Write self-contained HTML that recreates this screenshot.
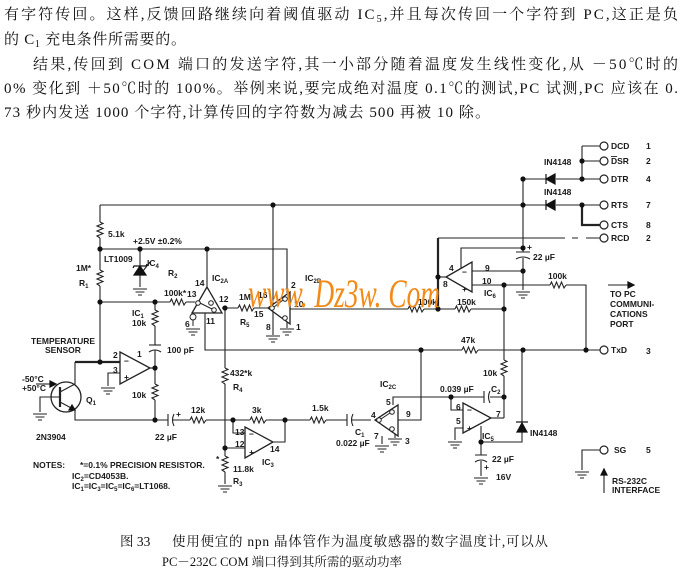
<!DOCTYPE html>
<html>
<head>
<meta charset="utf-8">
<style>
html,body{margin:0;padding:0;background:#fff;}
svg{display:block;}
.t{font-family:"Liberation Serif","Noto Serif CJK SC",serif;font-size:15px;fill:#111;}
.c{font-family:"Liberation Serif","Noto Serif CJK SC",serif;font-size:13.5px;fill:#111;}
.l{font-family:"Liberation Sans",sans-serif;font-size:8.5px;font-weight:bold;fill:#1a1a1a;}
.p{font-family:"Liberation Sans",sans-serif;font-size:8.5px;fill:#1a1a1a;}
</style>
</head>
<body>
<svg width="686" height="580" viewBox="0 0 686 580" xmlns="http://www.w3.org/2000/svg">
<defs>
  <polyline id="rh" points="0,0 1.5,-3 4,3 6.5,-3 9,3 11.5,-3 14,3 16,0"/>
  <path id="gnd" d="M-7,0H7M-4.5,3H4.5M-2,6H2"/>
</defs>

<!-- body text -->
<text class="t" x="4" y="19" textLength="674" lengthAdjust="spacing">有字符传回。这样,反馈回路继续向着阈值驱动 IC<tspan font-size="10" dy="3">5</tspan><tspan dy="-3">,并且每次传回一个字符到 PC,这正是负</tspan></text>
<text class="t" x="4" y="44" textLength="182" lengthAdjust="spacing">的 C<tspan font-size="10" dy="3">1</tspan><tspan dy="-3"> 充电条件所需要的。</tspan></text>
<text class="t" x="33" y="69" textLength="645" lengthAdjust="spacing">结果,传回到 COM 端口的发送字符,其一小部分随着温度发生线性变化,从 －50℃时的</text>
<text class="t" x="4" y="93" textLength="674" lengthAdjust="spacing">0% 变化到 ＋50℃时的 100%。举例来说,要完成绝对温度 0.1℃的测试,PC 试测,PC 应该在 0.</text>
<text class="t" x="4" y="117" textLength="486" lengthAdjust="spacing">73 秒内发送 1000 个字符,计算传回的字符数为减去 500 再被 10 除。</text>

<!-- caption -->
<text class="c" x="120" y="546">图 33</text>
<text class="c" x="172" y="546" textLength="376" lengthAdjust="spacing">使用便宜的 npn 晶体管作为温度敏感器的数字温度计,可以从</text>
<text class="c" x="162" y="566" style="font-size:12.5px" textLength="240" lengthAdjust="spacing">PC－232C COM 端口得到其所需的驱动功率</text>

<!-- wires -->
<g stroke="#222" stroke-width="1.1" fill="none">
  <path d="M100,205H546M556,205H600"/>
  <path d="M100,205V222M100,238V270M100,286V362"/>
  <path d="M100,249H287V293"/>
  <path d="M140,249V266M140,275V287"/>
  <path d="M143,271L150,262"/>
  <path d="M207,249V287"/>
  <path d="M273,205V335"/>
  <path d="M287,322V328"/>
  <path d="M100,302H170M186,302H195"/>
  <path d="M155,302V310M155,326V345M155,350V384M155,400V420"/>
  <path d="M149,345H161"/>
  <path d="M149,352Q155,348 161,352"/>
  <path d="M150,368H155"/>
  <path d="M120,373H108V386"/>
  <path d="M75,362V385"/>
  <path d="M60,392L75,384M60,402L75,410M75,410V420H168"/>
  <path d="M168,414V426M174,414Q171,420 174,426"/>
  <path d="M173,420H190M206,420H250M266,420H310M326,420H347"/>
  <path d="M347,414V426M353,414Q350,420 353,426"/>
  <path d="M352,420H371"/>
  <path d="M60,397H40V412"/>
  <path d="M36,384H52"/>
  <path d="M205,313V350H462M478,350H600"/>
  <path d="M225,308V368M225,384V456M225,472V484"/>
  <path d="M222,308H238M254,308H268"/>
  <path d="M233,420V433H245"/>
  <path d="M225,448H245"/>
  <path d="M273,442H285V420"/>
  <path d="M393,405V397H484M490,397H504"/>
  <path d="M484,391V403M490,391Q487,397 490,403"/>
  <path d="M398,420H421V350"/>
  <path d="M382,436V444M395,434V438"/>
  <path d="M451,397V410H463"/>
  <path d="M463,428H455V440"/>
  <path d="M491,418H504"/>
  <path d="M504,285V360M504,376V418"/>
  <path d="M481,426V455M481,461V476"/>
  <path d="M475,455H487M475,462Q481,458 487,462"/>
  <path d="M481,442H522V350"/>
  <path d="M438,238H565M572,238H578M586,238H600"/>
  <path d="M438,277H446"/>
  <path d="M461,268V248H523M472,271H523M472,285H550M566,285H586V350"/>
  <path d="M523,179V252M523,258V290"/>
  <path d="M516,252H530M516,259Q523,255 530,259"/>
  <path d="M290,309H408M424,309H455M471,309H504"/>
  <path d="M523,179H546M556,179H600"/>
  <path d="M582,146V179M582,146H600M582,161H600"/>
  <path d="M600,450H582V470"/>
  <path d="M604,493V472"/>
  <path d="M608,285H630"/>
</g>
<g stroke="#222" stroke-width="2.2" fill="none">
  <path d="M75,362H120"/>
  <path d="M438,238V309"/>
  <path d="M582,205V225H600"/>
  <path d="M60,387V407"/>
</g>

<!-- resistors -->
<g stroke="#222" stroke-width="1.1" fill="none">
  <use href="#rh" transform="translate(100,222) rotate(90)"/>
  <use href="#rh" transform="translate(100,270) rotate(90)"/>
  <use href="#rh" transform="translate(170,302)"/>
  <use href="#rh" transform="translate(155,310) rotate(90)"/>
  <use href="#rh" transform="translate(155,384) rotate(90)"/>
  <use href="#rh" transform="translate(190,420)"/>
  <use href="#rh" transform="translate(250,420)"/>
  <use href="#rh" transform="translate(310,420)"/>
  <use href="#rh" transform="translate(225,368) rotate(90)"/>
  <use href="#rh" transform="translate(225,456) rotate(90)"/>
  <use href="#rh" transform="translate(238,308)"/>
  <use href="#rh" transform="translate(462,350)"/>
  <use href="#rh" transform="translate(504,360) rotate(90)"/>
  <use href="#rh" transform="translate(550,285)"/>
  <use href="#rh" transform="translate(408,309)"/>
  <use href="#rh" transform="translate(455,309)"/>
</g>

<!-- grounds -->
<g stroke="#222" stroke-width="1.1" fill="none">
  <use href="#gnd" transform="translate(140,289)"/>
  <use href="#gnd" transform="translate(273,336)"/>
  <use href="#gnd" transform="translate(287,329)"/>
  <use href="#gnd" transform="translate(193,329)"/>
  <use href="#gnd" transform="translate(108,388)"/>
  <use href="#gnd" transform="translate(40,414)"/>
  <use href="#gnd" transform="translate(225,486)"/>
  <use href="#gnd" transform="translate(382,446)"/>
  <use href="#gnd" transform="translate(395,439)"/>
  <use href="#gnd" transform="translate(455,442)"/>
  <use href="#gnd" transform="translate(481,478)"/>
  <use href="#gnd" transform="translate(523,292)"/>
  <use href="#gnd" transform="translate(582,472)"/>
</g>

<!-- op amps / switches -->
<g stroke="#222" stroke-width="1.3" fill="#fff">
  <polygon points="120,352 120,384 150,368"/>
  <polygon points="245,427 245,458 273,442"/>
  <polygon points="463,403 463,433 491,418"/>
  <polygon points="446,277 472,262 472,292"/>
  <polygon points="207,287 192,313 222,313"/>
  <polygon points="268,308 290,292 290,324"/>
  <polygon points="375,420 398,405 398,436"/>
  <circle cx="66" cy="397" r="15" fill="none"/>
</g>
<!-- switch internals -->
<g stroke="#222" stroke-width="1" fill="#fff">
  <circle cx="198" cy="303" r="2.3"/>
  <circle cx="211" cy="303" r="2.3"/>
  <circle cx="214" cy="310" r="2.3"/>
  <path d="M200,303L212,309" fill="none"/>
  <circle cx="193" cy="317" r="3"/>
  <path d="M193,320V326" fill="none"/>
  <circle cx="272" cy="308" r="2.3"/>
  <circle cx="285" cy="299" r="2.3"/>
  <circle cx="285" cy="318" r="2.3"/>
  <path d="M274,307L283,300" fill="none"/>
  <circle cx="379" cy="420" r="2.3"/>
  <circle cx="392" cy="412" r="2.3"/>
  <circle cx="392" cy="429" r="2.3"/>
  <path d="M381,419L390,413" fill="none"/>
</g>

<!-- diodes -->
<g fill="#111" stroke="#111" stroke-width="1.2">
  <polygon points="546,179 555,174 555,184"/>
  <path d="M546,174V184"/>
  <polygon points="546,205 555,200 555,210"/>
  <path d="M546,200V210"/>
  <polygon points="517,432 527,432 522,423"/>
  <path d="M516,422H528"/>
  <polygon points="134,275 146,275 140,266"/>
  <path d="M133,268L134,266H146L147,264" fill="none"/>
  <polygon points="75,410 69,410 72,405"/>
  <polygon points="56,384 50,381 50,387"/>
  <polygon points="634,285 628,282 628,288"/>
  <polygon points="604,469 601,475 607,475"/>
</g>

<!-- terminals -->
<g stroke="#222" stroke-width="1.2" fill="#fff">
  <circle cx="604" cy="146" r="4"/>
  <circle cx="604" cy="161" r="4"/>
  <circle cx="604" cy="179" r="4"/>
  <circle cx="604" cy="205" r="4"/>
  <circle cx="604" cy="225" r="4"/>
  <circle cx="604" cy="238" r="4"/>
  <circle cx="604" cy="350" r="4"/>
  <circle cx="604" cy="450" r="4"/>
</g>

<!-- nodes -->
<g fill="#111">
  <circle cx="273" cy="205" r="2.6"/><circle cx="523" cy="205" r="2.6"/>
  <circle cx="100" cy="249" r="2.6"/><circle cx="140" cy="249" r="2.6"/>
  <circle cx="207" cy="249" r="2.6"/><circle cx="100" cy="302" r="2.6"/>
  <circle cx="155" cy="302" r="2.6"/><circle cx="225" cy="308" r="2.6"/>
  <circle cx="100" cy="362" r="2.6"/><circle cx="155" cy="368" r="2.6"/>
  <circle cx="155" cy="420" r="2.6"/><circle cx="233" cy="420" r="2.6"/>
  <circle cx="285" cy="420" r="2.6"/><circle cx="225" cy="448" r="2.6"/>
  <circle cx="421" cy="350" r="2.6"/><circle cx="523" cy="350" r="2.6"/>
  <circle cx="586" cy="350" r="2.6"/><circle cx="451" cy="397" r="2.6"/>
  <circle cx="504" cy="397" r="2.6"/><circle cx="481" cy="442" r="2.6"/>
  <circle cx="438" cy="277" r="2.6"/><circle cx="438" cy="309" r="2.6"/>
  <circle cx="504" cy="309" r="2.6"/><circle cx="504" cy="285" r="2.6"/>
  <circle cx="523" cy="271" r="2.6"/><circle cx="523" cy="248" r="2.6"/>
  <circle cx="582" cy="161" r="2.6"/><circle cx="582" cy="179" r="2.6"/>
  <circle cx="582" cy="205" r="2.6"/><circle cx="523" cy="179" r="2.6"/>
</g>

<!-- labels -->
<g class="l">
  <text x="108" y="237">5.1k</text>
  <text x="133" y="244">+2.5V ±0.2%</text>
  <text x="104" y="262">LT1009</text>
  <text x="147" y="266">IC<tspan font-size="6" dy="2">4</tspan></text>
  <text x="76" y="271">1M*</text>
  <text x="79" y="286" class="p">R<tspan font-size="6" dy="2">1</tspan></text>
  <text x="168" y="276">R<tspan font-size="6" dy="2">2</tspan></text>
  <text x="164" y="296">100k*</text>
  <text x="195" y="286">14</text>
  <text x="212" y="281">IC<tspan font-size="6" dy="2">2A</tspan></text>
  <text x="187" y="297">13</text>
  <text x="219" y="302">12</text>
  <text x="206" y="324">11</text>
  <text x="185" y="327">6</text>
  <text x="132" y="316">IC<tspan font-size="6" dy="2">1</tspan></text>
  <text x="132" y="326">10k</text>
  <text x="239" y="300">1M</text>
  <text x="240" y="325">R<tspan font-size="6" dy="2">5</tspan></text>
  <text x="254" y="317">15</text>
  <text x="258" y="298">16</text>
  <text x="266" y="330">8</text>
  <text x="305" y="281">IC<tspan font-size="6" dy="2">2B</tspan></text>
  <text x="291" y="288">2</text>
  <text x="294" y="307">10</text>
  <text x="296" y="330">1</text>
  <text x="31" y="344">TEMPERATURE</text>
  <text x="45" y="353">SENSOR</text>
  <text x="113" y="358">2</text>
  <text x="137" y="357">1</text>
  <text x="113" y="373">3</text>
  <text x="124" y="364">−</text>
  <text x="124" y="380">+</text>
  <text x="167" y="353">100 pF</text>
  <text x="22" y="382">-50°C</text>
  <text x="22" y="391">+50°C</text>
  <text x="86" y="403">Q<tspan font-size="6" dy="2">1</tspan></text>
  <text x="132" y="398">10k</text>
  <text x="36" y="440">2N3904</text>
  <text x="155" y="440">22 µF</text>
  <text x="176" y="417">+</text>
  <text x="191" y="413">12k</text>
  <text x="252" y="413">3k</text>
  <text x="312" y="411">1.5k</text>
  <text x="230" y="376">432*k</text>
  <text x="233" y="390">R<tspan font-size="6" dy="2">4</tspan></text>
  <text x="235" y="435">13</text>
  <text x="235" y="447">12</text>
  <text x="249" y="437">−</text>
  <text x="249" y="455">+</text>
  <text x="270" y="452">14</text>
  <text x="262" y="465">IC<tspan font-size="6" dy="2">3</tspan></text>
  <text x="233" y="472">11.8k</text>
  <text x="233" y="484">R<tspan font-size="6" dy="2">3</tspan></text>
  <text x="216" y="462">*</text>
  <text x="33" y="468">NOTES:</text>
  <text x="80" y="468">*=0.1% PRECISION RESISTOR.</text>
  <text x="72" y="479">IC<tspan font-size="6" dy="2">2</tspan><tspan dy="-2">=CD4053B.</tspan></text>
  <text x="72" y="489">IC<tspan font-size="6" dy="2">1</tspan><tspan dy="-2">=IC</tspan><tspan font-size="6" dy="2">3</tspan><tspan dy="-2">=IC</tspan><tspan font-size="6" dy="2">5</tspan><tspan dy="-2">=IC</tspan><tspan font-size="6" dy="2">6</tspan><tspan dy="-2">=LT1068.</tspan></text>

  <text x="355" y="435">C<tspan font-size="6" dy="2">1</tspan></text>
  <text x="336" y="446">0.022 µF</text>
  <text x="380" y="387">IC<tspan font-size="6" dy="2">2C</tspan></text>
  <text x="386" y="405">5</text>
  <text x="371" y="418">4</text>
  <text x="406" y="417">9</text>
  <text x="374" y="439">7</text>
  <text x="405" y="444">3</text>
  <text x="440" y="392">0.039 µF</text>
  <text x="491" y="392">C<tspan font-size="6" dy="2">2</tspan></text>
  <text x="483" y="376">10k</text>
  <text x="456" y="410">6</text>
  <text x="456" y="424">5</text>
  <text x="467" y="413">−</text>
  <text x="467" y="431">+</text>
  <text x="496" y="417">7</text>
  <text x="482" y="439">IC<tspan font-size="6" dy="2">5</tspan></text>
  <text x="530" y="436">IN4148</text>
  <text x="492" y="462">22 µF</text>
  <text x="484" y="470">+</text>
  <text x="496" y="480">16V</text>
  <text x="461" y="343">47k</text>

  <text x="418" y="305">100k</text>
  <text x="457" y="305">150k</text>
  <text x="548" y="279">100k</text>
  <text x="449" y="271">4</text>
  <text x="485" y="271">9</text>
  <text x="482" y="284">10</text>
  <text x="443" y="287">8</text>
  <text x="462" y="275">−</text>
  <text x="462" y="292">+</text>
  <text x="484" y="296">IC<tspan font-size="6" dy="2">6</tspan></text>
  <text x="533" y="260">22 µF</text>
  <text x="527" y="250">+</text>
  <text x="544" y="165">IN4148</text>
  <text x="544" y="195">IN4148</text>

  <text x="611" y="149">DCD</text>
  <text x="611" y="164"><tspan text-decoration="overline">D</tspan>SR</text>
  <text x="611" y="182">DTR</text>
  <text x="611" y="208">RTS</text>
  <text x="611" y="228">CTS</text>
  <text x="611" y="241">RCD</text>
  <text x="611" y="353">TxD</text>
  <text x="614" y="453">SG</text>
  <text x="646" y="149" class="p">1</text>
  <text x="646" y="164" class="p">2</text>
  <text x="646" y="182" class="p">4</text>
  <text x="646" y="208" class="p">7</text>
  <text x="646" y="228">8</text>
  <text x="646" y="241" class="p">2</text>
  <text x="646" y="354">3</text>
  <text x="646" y="453" class="p">5</text>
  <text x="610" y="297">TO PC</text>
  <text x="610" y="307">COMMUNI-</text>
  <text x="610" y="317">CATIONS</text>
  <text x="610" y="327">PORT</text>
  <text x="612" y="484">RS-232C</text>
  <text x="612" y="493">INTERFACE</text>
</g>

<!-- watermark -->
<text x="248" y="307" textLength="192" lengthAdjust="spacingAndGlyphs" font-family="Liberation Serif, serif" font-style="italic" font-size="40" fill="#f28a18">www. Dz3w. Com</text>
</svg>
</body>
</html>
